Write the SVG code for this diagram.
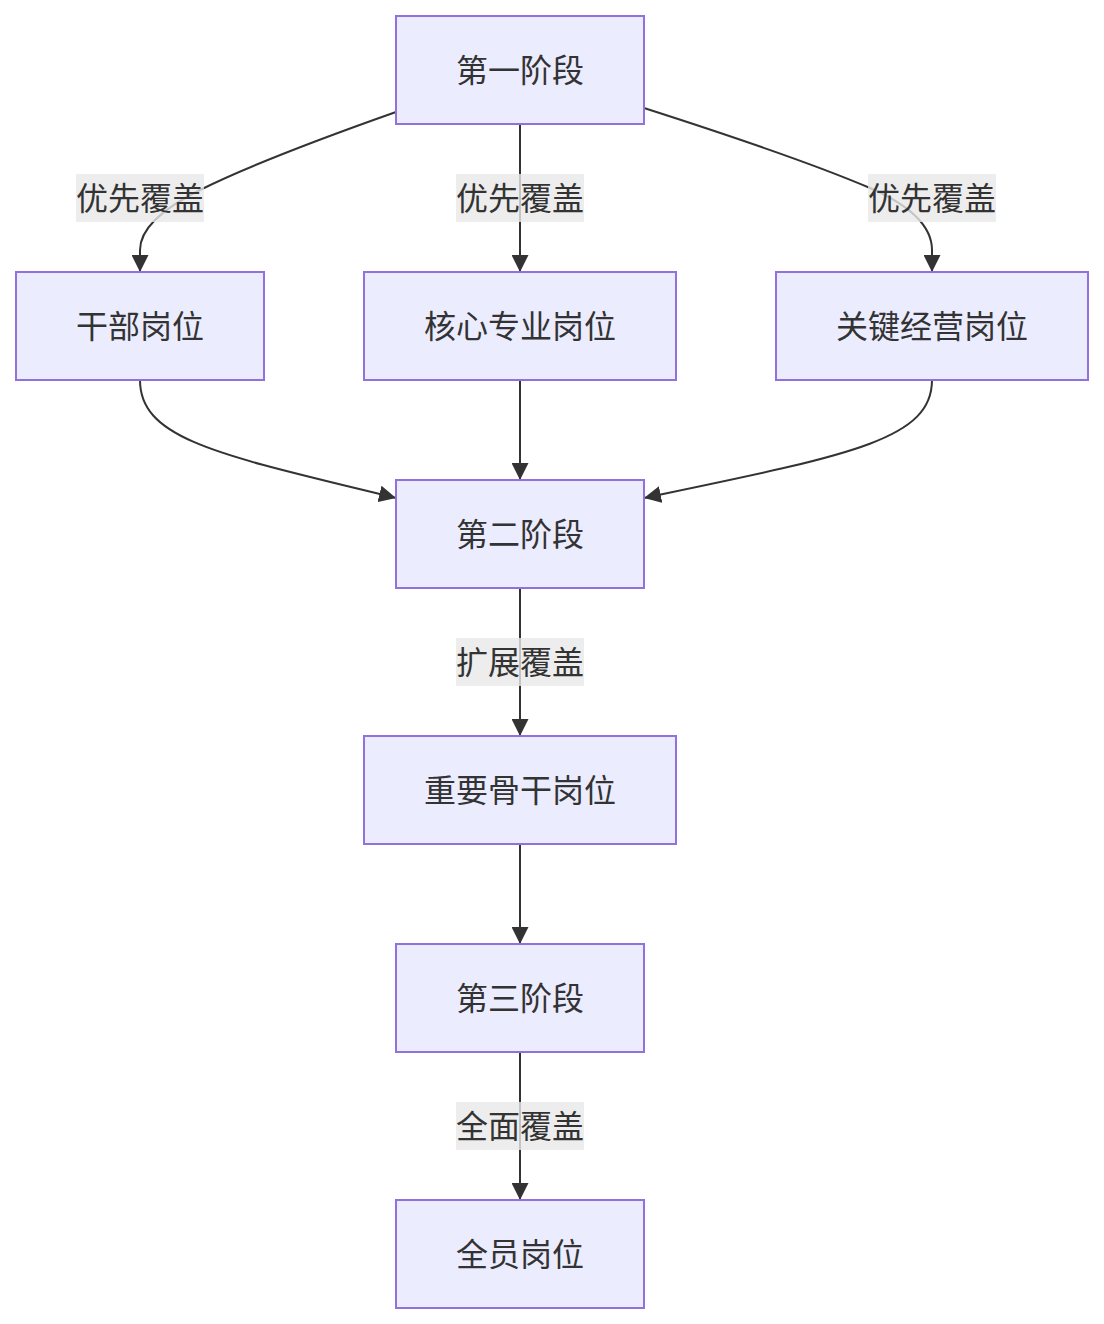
<svg xmlns="http://www.w3.org/2000/svg" width="1104" height="1324" viewBox="0 0 1104 1324">
<style>
.node rect{fill:#ECECFF;stroke:#9370DB;stroke-width:2px;}
text{font-family:"Noto Sans CJK SC","Noto Sans",sans-serif;font-size:32px;fill:#333333;text-anchor:middle;dominant-baseline:central;}
.edge{fill:none;stroke:#333333;stroke-width:2px;}
.lbl rect{fill:rgba(232,232,232,0.8);}
</style>
<defs>
<marker id="arrow" viewBox="0 0 10 10" refX="10" refY="5" markerUnits="userSpaceOnUse" markerWidth="17" markerHeight="17" orient="auto">
<path d="M0,0 L10,5 L0,10 z" fill="#333333"/>
</marker>
</defs>
<rect width="1104" height="1324" fill="#ffffff"/>
<g id="connectors">
<path class="edge" d="M396,112 Q260,160 200,190 Q140,220 140,250 L140,272" marker-end="url(#arrow)"/>
<path class="edge" d="M520,124 L520,272" marker-end="url(#arrow)"/>
<path class="edge" d="M644,108 Q800,158 870,188 Q932,215 932,250 L932,272" marker-end="url(#arrow)"/>
<path class="edge" d="M140,380 C140,440 220,455 396,498" marker-end="url(#arrow)"/>
<path class="edge" d="M520,380 L520,480" marker-end="url(#arrow)"/>
<path class="edge" d="M932,380 C932,440 850,455 644,498" marker-end="url(#arrow)"/>
<path class="edge" d="M520,588 L520,736" marker-end="url(#arrow)"/>
<path class="edge" d="M520,844 L520,944" marker-end="url(#arrow)"/>
<path class="edge" d="M520,1052 L520,1200" marker-end="url(#arrow)"/>
</g>
<g id="edge-labels">
<g class="lbl"><rect x="76" y="174" width="128" height="48"/><text x="140" y="196">优先覆盖</text></g>
<g class="lbl"><rect x="456" y="174" width="128" height="48"/><text x="520" y="196">优先覆盖</text></g>
<g class="lbl"><rect x="868" y="174" width="128" height="48"/><text x="932" y="196">优先覆盖</text></g>
<g class="lbl"><rect x="456" y="638" width="128" height="48"/><text x="520" y="660">扩展覆盖</text></g>
<g class="lbl"><rect x="456" y="1102" width="128" height="48"/><text x="520" y="1124">全面覆盖</text></g>
</g>
<g id="stage1" class="node"><rect x="396" y="16" width="248" height="108"/><text x="520" y="68">第一阶段</text></g>
<g id="cadre" class="node"><rect x="16" y="272" width="248" height="108"/><text x="140" y="324">干部岗位</text></g>
<g id="core" class="node"><rect x="364" y="272" width="312" height="108"/><text x="520" y="324">核心专业岗位</text></g>
<g id="key" class="node"><rect x="776" y="272" width="312" height="108"/><text x="932" y="324">关键经营岗位</text></g>
<g id="stage2" class="node"><rect x="396" y="480" width="248" height="108"/><text x="520" y="532">第二阶段</text></g>
<g id="backbone" class="node"><rect x="364" y="736" width="312" height="108"/><text x="520" y="788">重要骨干岗位</text></g>
<g id="stage3" class="node"><rect x="396" y="944" width="248" height="108"/><text x="520" y="996">第三阶段</text></g>
<g id="all" class="node"><rect x="396" y="1200" width="248" height="108"/><text x="520" y="1252">全员岗位</text></g>
</svg>
